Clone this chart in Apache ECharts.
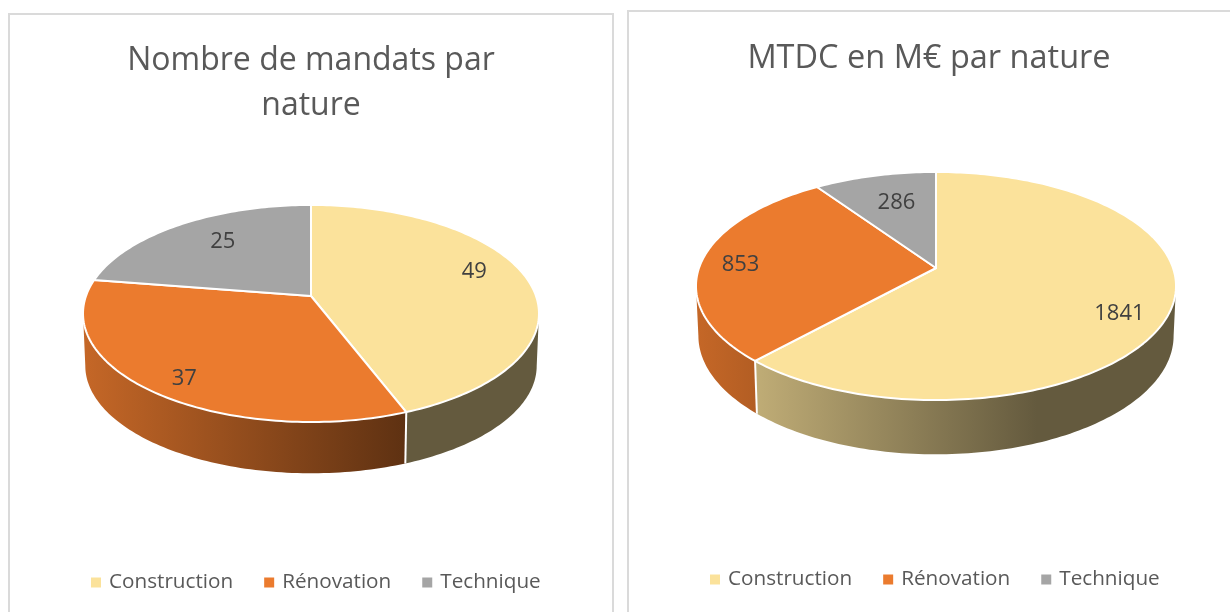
<!DOCTYPE html>
<html>
<head>
<meta charset="utf-8">
<style>html,body{margin:0;padding:0;background:#fff}#c{width:1230px;height:612px}</style>
<script src="https://cdn.jsdelivr.net/npm/echarts@6/dist/echarts.min.js"></script>
</head>
<body>
<div id="c"></div>
<script>
const categories = ['Construction', 'Rénovation', 'Technique'];
const mandatsValues = [49, 37, 25];
const mtdcValues = [1841, 853, 286];
const leftTitle = 'Nombre de mandats par\nnature';
const rightTitle = 'MTDC en M€ par nature';
const colors = ['#FBE29B', '#EB7B2E', '#A5A5A5'];

// Layout of each projected pie: apex position, horizontal/vertical radii, perspective k, thickness
const leftLayout = {ax: 311, ay: 296, A: 225, B: 105.7, k: 0.1613, D: 52.5, s: 0.99, sy: 0.99,
  labelFrac: [0.75, 0.84, 0.62], labelNudge: [[1, -10], [6, 6], [-4, -8]]};
const rightLayout = {ax: 936, ay: 268, A: 237, B: 111.2, k: 0.158, D: 49, s: 0.99, sy: 1.04,
  labelFrac: [0.85, 0.83, 0.7], labelNudge: [[-14, 10], [-1, 3], [5, 2]]};

function shade(hex, f) {
  const n = parseInt(hex.slice(1), 16);
  const c = [n >> 16 & 255, n >> 8 & 255, n & 255].map(v => Math.round(v * f));
  return 'rgb(' + c.join(',') + ')';
}

function makeSeries(values, L) {
  const total = values.reduce((a, b) => a + b, 0);
  const TAU = Math.PI * 2;
  const proj = (t, f, low) => {
    const u = f * Math.sin(t), v = f * Math.cos(t), w = 1 + L.k * v;
    const sx = low ? L.s : 1, sy = low ? L.sy : 1;
    return [L.ax + sx * L.A * u / w, L.ay - sy * L.B * v / w + (low ? L.D : 0)];
  };
  const tR = Math.acos(-L.k), tL = TAU - tR;
  const halfW = L.A / Math.sqrt(1 - L.k * L.k);
  const gx0 = L.ax - halfW, gx1 = gx0 + 0.71 * 2 * halfW;
  let cum = 0;
  return values.map((val, i) => {
    const start = cum; cum += val;
    const color = colors[i];
    return {
      type: 'custom',
      name: categories[i],
      coordinateSystem: 'none',
      silent: true,
      animation: false,
      itemStyle: {color},
      data: [[val, start]],
      renderItem(params, api) {
        const a = api.value(1) / total * TAU;
        const b = (api.value(1) + api.value(0)) / total * TAU;
        const mid = (a + b) / 2;
        const children = [];
        // Side wall
        const a2 = Math.max(a, tR), b2 = Math.min(b, tL);
        if (b2 > a2) {
          const upper = [], lower = [];
          const n = Math.ceil((b2 - a2) / 0.02);
          for (let j = 0; j <= n; j++) {
            const t = a2 + (b2 - a2) * j / n;
            upper.push(proj(t, 1, false));
            lower.unshift(proj(t, 1, true));
          }
          children.push({
            type: 'polygon', z2: 1,
            shape: {points: upper.concat(lower)},
            style: {
              fill: new echarts.graphic.LinearGradient(gx0, 0, gx1, 0, [
                {offset: 0, color: shade(color, 0.84)},
                {offset: 1, color: shade(color, 0.40)}
              ], true)
            }
          });
          // White dividers on the wall where a slice boundary faces the viewer
          if (a > tR && a < tL) {
            const p = proj(a, 1, false), q = proj(a, 1, true);
            children.push({type: 'line', z2: 2, shape: {x1: p[0], y1: p[1], x2: q[0], y2: q[1]},
              style: {stroke: '#fff', lineWidth: 2}});
          }
        }
        // Top face
        const pts = [[L.ax, L.ay]];
        const m = Math.ceil((b - a) / 0.02);
        for (let j = 0; j <= m; j++) pts.push(proj(a + (b - a) * j / m, 1, false));
        children.push({
          type: 'polygon', z2: 3,
          shape: {points: pts},
          style: {fill: color, stroke: '#fff', lineWidth: 2, lineJoin: 'round'}
        });
        // Value label
        const lp = proj(mid, L.labelFrac[i], false);
        children.push({
          type: 'text', z2: 5,
          x: lp[0] + L.labelNudge[i][0],
          y: lp[1] + L.labelNudge[i][1],
          style: {
            text: String(api.value(0)),
            fill: '#404040',
            font: '22px "Open Sans"',
            align: 'center',
            verticalAlign: 'middle'
          }
        });
        return {type: 'group', children};
      }
    };
  });
}

function frame(x, y, w, h) {
  return {type: 'rect', z: -1, shape: {x, y, width: w, height: h},
    style: {fill: '#fff', stroke: '#DADADA', lineWidth: 2}};
}

const chart = echarts.init(document.getElementById('c'), null, {renderer: 'canvas'});
const legendText = {color: '#595959', fontFamily: 'Open Sans', fontSize: 20.7};
const squareIcon = 'path://M0 0H10V10H0Z';
chart.setOption({
  backgroundColor: '#fff',
  animation: false,
  graphic: [frame(9, 14, 604, 620), frame(628, 11, 620, 620)],
  title: [
    {text: leftTitle, left: 306, top: 33.5, textAlign: 'center',
     textStyle: {color: '#595959', fontFamily: 'Open Sans', fontWeight: 'normal', fontSize: 32, lineHeight: 45}},
    {text: rightTitle, left: 924, top: 31, textAlign: 'center',
     textStyle: {color: '#595959', fontFamily: 'Open Sans', fontWeight: 'normal', fontSize: 32.5, lineHeight: 45}}
  ],
  legend: [
    {data: categories, left: 86, top: 567, icon: squareIcon, itemWidth: 16, itemHeight: 10,
     itemGap: 31, selectedMode: false, textStyle: legendText},
    {data: categories, left: 705, top: 564, icon: squareIcon, itemWidth: 16, itemHeight: 10,
     itemGap: 31, selectedMode: false, textStyle: legendText}
  ],
  series: makeSeries(mandatsValues, leftLayout).concat(makeSeries(mtdcValues, rightLayout))
});
</script>
</body>
</html>
